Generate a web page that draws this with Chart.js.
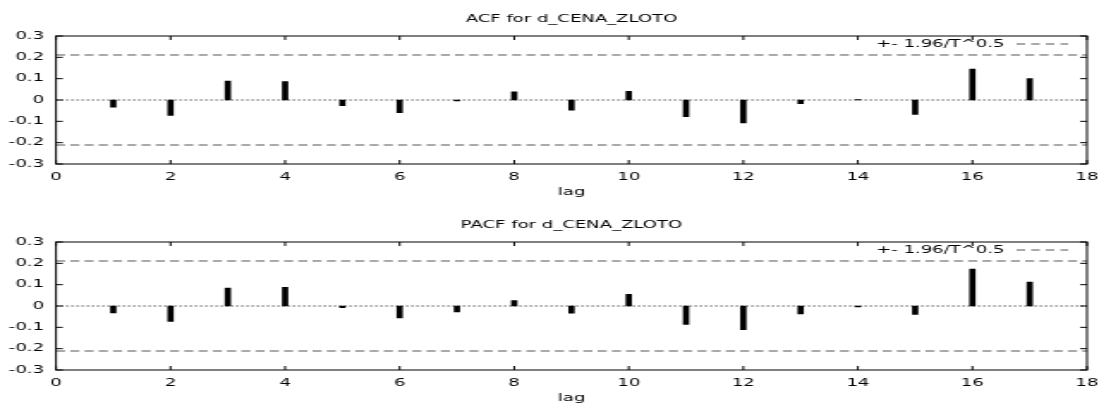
<!DOCTYPE html>
<html>
<head>
<meta charset="utf-8">
<title>ACF / PACF d_CENA_ZLOTO</title>
<script src="https://cdn.jsdelivr.net/npm/chart.js@4.4.1/dist/chart.umd.min.js"></script>
<style>
    html, body { margin: 0; padding: 0; background: #fff; }
    body { width: 1099px; height: 403px; overflow: hidden; position: relative; }
    canvas { position: absolute; left: 0; width: 1099px; height: 200px; }
</style>
</head>
<body>
<canvas id="acfChart" width="640" height="200" style="top:0px;width:1099px;height:200px"></canvas>
<canvas id="pacfChart" width="640" height="200" style="top:206px;width:1099px;height:200px"></canvas>

<script>
const lags = [1, 2, 3, 4, 5, 6, 7, 8, 9, 10, 11, 12, 13, 14, 15, 16, 17]
const acfValues = [-0.034, -0.072, 0.089, 0.086, -0.026, -0.059, -0.004, 0.038, -0.048, 0.041, -0.078, -0.108, -0.017, 0.002, -0.068, 0.145, 0.100]
const pacfValues = [-0.033, -0.072, 0.084, 0.087, -0.008, -0.056, -0.028, 0.025, -0.034, 0.055, -0.086, -0.111, -0.037, -0.004, -0.040, 0.173, 0.112]
const band = 0.211
const bandLabel = '+- 1.96/T^0.5'
const xTicks = [0, 2, 4, 6, 8, 10, 12, 14, 16, 18]
const yTicks = [-0.3, -0.2, -0.1, 0, 0.1, 0.2, 0.3]

const FONT = { family: 'DejaVu Sans', size: 10.5 }
const DASH = [5.3, 3]
const DASH_COLOR = '#555'

// gnuplot-like frame: border, inward ticks on all sides, title and key
const gnuplotFrame = {
    id: 'gnuplotFrame',
    afterDraw(chart, args, opts) {
        const ctx = chart.ctx
        const a = chart.chartArea
        const xs = chart.scales.x
        const ys = chart.scales.y
        ctx.save()
        ctx.strokeStyle = '#000'
        ctx.lineWidth = 1
        ctx.strokeRect(a.left, a.top, a.right - a.left, a.bottom - a.top)
        ctx.beginPath()
        xTicks.forEach(function (v) {
            const px = xs.getPixelForValue(v)
            ctx.moveTo(px, a.top); ctx.lineTo(px, a.top + 4)
            ctx.moveTo(px, a.bottom); ctx.lineTo(px, a.bottom - 4)
        })
        yTicks.forEach(function (v) {
            const py = ys.getPixelForValue(v)
            ctx.moveTo(a.left, py); ctx.lineTo(a.left + 4, py)
            ctx.moveTo(a.right, py); ctx.lineTo(a.right - 4, py)
        })
        ctx.stroke()

        ctx.fillStyle = '#000'
        ctx.font = FONT.size + 'px ' + FONT.family
        ctx.textBaseline = 'middle'
        ctx.textAlign = 'center'
        ctx.fillText(opts.title, (a.left + a.right) / 2, 19)

        // key
        const ky = a.top + 8
        ctx.textAlign = 'right'
        ctx.fillText(bandLabel, a.right - 48, ky)
        ctx.strokeStyle = DASH_COLOR
        ctx.setLineDash([5, 3.5])
        ctx.beginPath()
        ctx.moveTo(a.right - 41, ky)
        ctx.lineTo(a.right - 11, ky)
        ctx.stroke()
        ctx.restore()
    }
}

function hLine(y, color, dash) {
    return {
        type: 'line',
        data: [{ x: 0, y: y }, { x: 18, y: y }],
        borderColor: color,
        borderWidth: 1,
        borderDash: dash,
        pointRadius: 0,
        fill: false
    }
}

function plotarCorrelograma(id, titulo, valores) {
    const dados = lags.map(function (l, i) { return { x: l, y: valores[i] } })
    const config = {
        type: 'bar',
        data: {
            datasets: [
                hLine(band, DASH_COLOR, DASH),
                hLine(-band, DASH_COLOR, DASH),
                hLine(0, '#000', [1, 2]),
                {
                    type: 'bar',
                    data: dados,
                    backgroundColor: '#000',
                    borderWidth: 0,
                    barThickness: 3
                }
            ]
        },
        options: {
            responsive: false,
            devicePixelRatio: 1,
            animation: false,
            layout: { padding: { top: 36, right: 7, left: 0, bottom: 0 } },
            plugins: {
                legend: { display: false },
                tooltip: { enabled: false },
                gnuplotFrame: { title: titulo }
            },
            scales: {
                x: {
                    type: 'linear',
                    min: 0,
                    max: 18,
                    offset: false,
                    grid: { display: false, drawTicks: false },
                    border: { display: false },
                    afterBuildTicks: function (s) { s.ticks = xTicks.map(function (v) { return { value: v } }) },
                    afterFit: function (s) { s.height = 36; s.paddingLeft = 0; s.paddingRight = 0 },
                    ticks: { color: '#000', font: FONT, padding: 7, maxRotation: 0, autoSkip: false },
                    title: { display: true, text: 'lag', color: '#000', font: FONT, padding: { top: 0, bottom: 1 } }
                },
                y: {
                    min: -0.3,
                    max: 0.3,
                    grid: { display: false, drawTicks: false },
                    border: { display: false },
                    afterBuildTicks: function (s) { s.ticks = yTicks.map(function (v) { return { value: v } }) },
                    afterFit: function (s) { s.width = 32.6 },
                    ticks: {
                        color: '#000',
                        font: FONT,
                        padding: 7,
                        callback: function (v) { return Math.abs(v) < 1e-9 ? '0' : v.toFixed(1) }
                    }
                }
            }
        },
        plugins: [gnuplotFrame]
    }
    const ctx = document.getElementById(id).getContext('2d')
    return new Chart(ctx, config)
}

let GraficoAcf = plotarCorrelograma('acfChart', 'ACF for d_CENA_ZLOTO', acfValues)
let GraficoPacf = plotarCorrelograma('pacfChart', 'PACF for d_CENA_ZLOTO', pacfValues)
</script>
</body>
</html>
